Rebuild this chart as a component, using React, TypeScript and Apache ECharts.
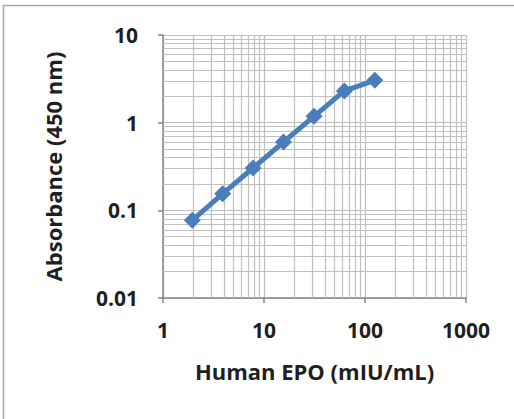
import React, { useEffect, useRef } from "react";
import * as echarts from "echarts";

const concentrations = [1.95, 3.9, 7.8, 15.6, 31.25, 62.5, 125];
const absorbance = [0.077, 0.155, 0.304, 0.602, 1.18, 2.3, 3.04];
const xMinorLines = [2, 3, 4, 5, 6, 7, 8, 9, 20, 30, 40, 50, 60, 70, 80, 90, 200, 300, 400, 500, 600, 700, 800, 900];
const yMinorLines = [0.02, 0.03, 0.04, 0.05, 0.06, 0.07, 0.08, 0.09, 0.2, 0.3, 0.4, 0.5, 0.6, 0.7, 0.8, 0.9, 2, 3, 4, 5, 6, 7, 8, 9];
const xTitle = "Human EPO (mIU/mL)";
const yTitle = "Absorbance (450 nm)";

const FONT = "'Open Sans', 'Noto Sans', sans-serif";
const GRID_COLOR = "#c0c0c0";
const AXIS_COLOR = "#868686";
const SERIES_COLOR = "#4a7ebb";
const TEXT_COLOR = "#1f1f1f";

const fmt = (v: number) => String(+Number(v).toPrecision(6));

export default function App() {
  const ref = useRef<HTMLDivElement>(null);
  useEffect(() => {
    if (!ref.current) return;
    const chart = echarts.init(ref.current, undefined, { renderer: "svg" });
    chart.setOption({
      animation: false,
      backgroundColor: "#ffffff",
      graphic: [
        {
          type: "rect",
          shape: { x: 3.5, y: 5.5, width: 700, height: 700 },
          style: { fill: "none", stroke: "#a6a6a6", lineWidth: 1.5 },
          silent: true,
        },
      ],
      grid: { left: 163, right: 48, top: 35, bottom: 121 },
      xAxis: {
        type: "log",
        logBase: 10,
        min: 1,
        max: 1000,
        name: xTitle,
        nameLocation: "middle",
        nameGap: 62,
        nameTextStyle: { fontFamily: FONT, fontWeight: "bold", fontSize: 22, color: TEXT_COLOR },
        axisLine: { show: true, lineStyle: { color: AXIS_COLOR, width: 1.5 } },
        axisTick: { show: true, inside: false, length: 5, lineStyle: { color: AXIS_COLOR, width: 1.5 } },
        axisLabel: { fontFamily: FONT, fontWeight: "bold", fontSize: 21, color: TEXT_COLOR, margin: 21, formatter: fmt },
        splitLine: { show: true, lineStyle: { color: GRID_COLOR, width: 1.2 } },
        minorTick: { show: false },
      },
      yAxis: {
        type: "log",
        logBase: 10,
        min: 0.01,
        max: 10,
        name: yTitle,
        nameLocation: "middle",
        nameGap: 99,
        nameTextStyle: { fontFamily: FONT, fontWeight: "bold", fontSize: 22, color: TEXT_COLOR },
        axisLine: { show: true, lineStyle: { color: AXIS_COLOR, width: 1.5 } },
        axisTick: { show: true, inside: false, length: 5, lineStyle: { color: AXIS_COLOR, width: 1.5 } },
        axisLabel: { fontFamily: FONT, fontWeight: "bold", fontSize: 21, color: TEXT_COLOR, margin: 25, formatter: fmt },
        splitLine: { show: true, lineStyle: { color: GRID_COLOR, width: 1.2 } },
      },
      series: [
        {
          type: "line",
          data: [],
          silent: true,
          markLine: {
            silent: true,
            symbol: "none",
            label: { show: false },
            lineStyle: { color: GRID_COLOR, width: 1.2, type: "solid" },
            data: [
              ...xMinorLines.map((v) => ({ xAxis: v })),
              ...yMinorLines.map((v) => ({ yAxis: v })),
            ],
          },
        },
        {
          type: "line",
          data: concentrations.map((x, i) => [x, absorbance[i]]),
          symbol: "diamond",
          symbolSize: 17,
          lineStyle: { color: SERIES_COLOR, width: 5 },
          itemStyle: { color: SERIES_COLOR },
          z: 5,
        },
      ],
    });
    return () => chart.dispose();
  }, []);
  return (
    <div
      ref={ref}
      style={{ position: "fixed", left: 0, top: 0, width: 514, height: 419, background: "#fff" }}
    />
  );
}
